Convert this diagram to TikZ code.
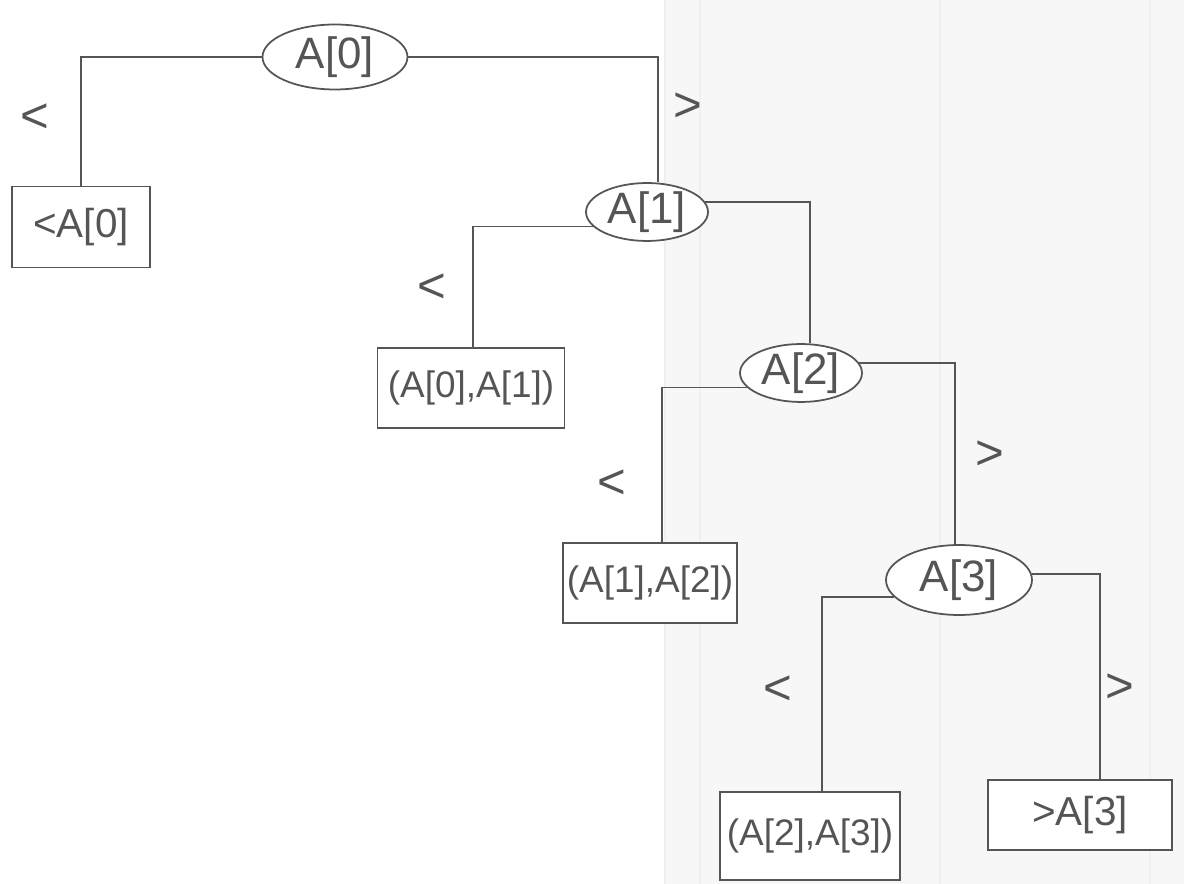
\documentclass[tikz,border=0pt]{standalone}
\usepackage{fontspec}
\setmainfont{Liberation Sans}
\usetikzlibrary{shapes.geometric}
\definecolor{ink}{HTML}{555555}
\definecolor{paper}{HTML}{F7F7F7}
\begin{document}
\begin{tikzpicture}[x=0.02cm,y=-0.02cm,
  every node/.style={text=ink},
  line/.style={draw=ink,line width=1pt},
  tnode/.style={ellipse,draw=ink,line width=1pt,fill=white,inner sep=0pt,font=\fontsize{25}{29}\selectfont},
  leaf/.style={rectangle,draw=ink,line width=1pt,fill=white,inner sep=0pt,font=\fontsize{23}{27}\selectfont},
  pairleaf/.style={leaf,font=\fontsize{21}{25}\selectfont},
  branch/.style={font=\fontsize{28}{32}\selectfont}]
\useasboundingbox (0,0) rectangle (1184,884);
\fill[white] (0,0) rectangle (1184,884);
\fill[paper] (665,0) rectangle (1184,884);
\foreach \xx in {665,700,940,1150}{\draw[black!6,line width=1.5pt] (\xx,0) -- (\xx,884);}
% decision nodes
\node[tnode,minimum width=2.9cm,minimum height=1.3cm] (a0) at (335,57) {A[0]};
\node[tnode,minimum width=2.44cm,minimum height=1.0cm] (a1) at (647,212) {A[1]};
\node[tnode,minimum width=2.44cm,minimum height=1.1cm] (a2) at (801,373) {A[2]};
\node[tnode,minimum width=2.92cm,minimum height=1.4cm] (a3) at (959,580) {A[3]};
% leaves
\node[leaf,minimum width=2.76cm,minimum height=1.62cm] (l0) at (81,227) {<A[0]};
\node[pairleaf,minimum width=3.74cm,minimum height=1.6cm] (l1) at (471,388) {(A[0],A[1])};
\node[pairleaf,minimum width=3.48cm,minimum height=1.6cm] (l2) at (650,583) {(A[1],A[2])};
\node[pairleaf,minimum width=3.6cm,minimum height=1.76cm] (l3) at (810,836) {(A[2],A[3])};
\node[leaf,minimum width=3.68cm,minimum height=1.4cm] (r3) at (1080,815) {>A[3]};
% connectors
\draw[line] (a0.west) -| (l0.north);
\draw[line] (a0.east) -| ([shift={(11,0)}]a1.north);
\draw[line] (a1.195) -| ([shift={(2,0)}]l1.north);
\draw[line] (a1.10) -| ([shift={(9,0)}]a2.north);
\draw[line] (a2.195) -| ([shift={(12,0)}]l2.north);
\draw[line] (a2.10) -| ([shift={(-4,0)}]a3.north);
\draw[line] (a3.195) -| ([shift={(12,0)}]l3.north);
\draw[line] (a3.5) -| ([shift={(20,0)}]r3.north);
% branch labels
\node[branch] (b1) at (35,118) {<};
\node[branch] (b2) at (688,107) {>};
\node[branch] (b3) at (432,288) {<};
\node[branch] (b4) at (612,484) {<};
\node[branch] (b5) at (990,455) {>};
\node[branch] (b6) at (778,690) {<};
\node[branch] (b7) at (1120,688) {>};
\end{tikzpicture}
\end{document}
